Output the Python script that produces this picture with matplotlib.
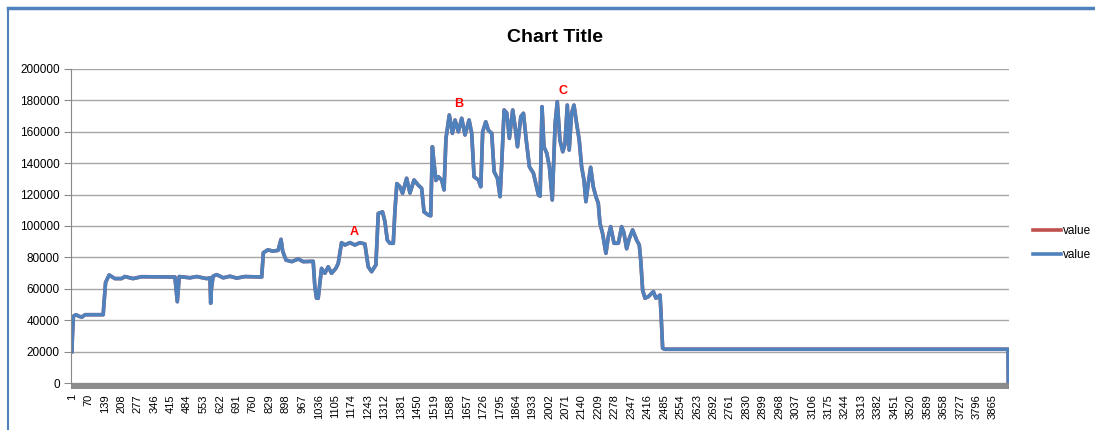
import matplotlib

matplotlib.use("Agg")
import matplotlib.pyplot as plt
from matplotlib.lines import Line2D
from matplotlib.patches import Rectangle

plt.rcParams["font.family"] = ["Liberation Sans Narrow", "Liberation Sans", "DejaVu Sans"]

# puntos (indice de fila, valor)
idx = [1, 3, 7, 18, 30, 43, 56, 132, 135, 142, 157, 181, 209, 223, 257, 293,
       433, 439, 443, 448, 451, 496, 524, 566, 580, 583, 586, 593, 608, 636,
       664, 692, 727, 797, 804, 823, 844, 866, 878, 885, 899, 923, 950, 971,
       1013, 1020, 1027, 1034, 1048, 1062, 1076, 1090, 1108, 1118, 1132, 1146,
       1167, 1188, 1209, 1230, 1244, 1258, 1276, 1286, 1304, 1314, 1324, 1335,
       1349, 1356, 1364, 1377, 1388, 1405, 1419, 1436, 1454, 1468, 1478, 1496,
       1506, 1513, 1520, 1528, 1538, 1552, 1562, 1570, 1584, 1597, 1608, 1622,
       1636, 1650, 1667, 1678, 1688, 1706, 1716, 1724, 1737, 1748, 1762, 1772,
       1786, 1797, 1804, 1814, 1825, 1836, 1850, 1860, 1870, 1884, 1895, 1906,
       1920, 1937, 1958, 1965, 1973, 1981, 1993, 2004, 2016, 2028, 2037, 2048,
       2060, 2069, 2079, 2087, 2097, 2107, 2118, 2129, 2139, 2149, 2157, 2167,
       2177, 2188, 2199, 2209, 2216, 2227, 2241, 2251, 2261, 2275, 2293, 2307,
       2316, 2328, 2339, 2353, 2370, 2381, 2387, 2395, 2405, 2419, 2440, 2451,
       2461, 2468, 2472, 2479, 2489, 3928, 3929]
valores = [20000, 30000, 42500, 43500, 42500, 42000, 43500, 43500, 50000, 64000,
           68800, 66500, 66500, 67800, 66500, 67700, 67500, 58000, 51800, 62000,
           67800, 67000, 67800, 66500, 67000, 50800, 60000, 68000, 69000, 67000,
           68000, 66800, 67800, 67500, 83000, 84800, 84000, 84500, 91500, 84000,
           78300, 77300, 79000, 77300, 77500, 61300, 54000, 54000, 73000, 69900,
           74000, 69900, 73000, 76200, 89400, 87900, 89400, 87900, 89400, 88500,
           74000, 70900, 75200, 108000, 109000, 102700, 91000, 89000, 89000,
           110000, 127000, 125000, 120800, 130400, 121000, 129300, 126000,
           124000, 109000, 107000, 106500, 150500, 140000, 129000, 131400,
           129300, 123000, 155800, 170700, 159000, 167500, 160000, 168600,
           158000, 167500, 159000, 131400, 129300, 125000, 160000, 166400,
           161000, 159000, 134600, 130400, 118700, 140000, 173900, 172000,
           155800, 173900, 163300, 150500, 169600, 171800, 155800, 137800,
           133600, 119700, 119000, 176000, 150500, 146300, 137800, 116600,
           165400, 179200, 154800, 147300, 152000, 177000, 148400, 171800,
           177000, 165400, 154800, 137800, 129300, 115500, 127200, 137400,
           125000, 118700, 114500, 101700, 95300, 82600, 93200, 99600, 89000,
           89000, 99600, 96000, 85500, 92000, 97500, 91000, 87900, 78300, 59200,
           54000, 55000, 58200, 54000, 55000, 56000, 45000, 22100, 21500, 21500, 0]

etiquetas_x = list(range(1, 3866, 69))
marcas = {"A": (1184, 96000), "B": (1624, 177700), "C": (2061, 186000)}

AZUL = "#4f81bd"
ROJO = "#c0504d"
GRIS = "#a6a6a6"

fig = plt.figure(figsize=(10.95, 4.30), dpi=100)
ax = fig.add_axes([71 / 1095, 47 / 430, 938 / 1095, 314 / 430])

ax.plot(idx, valores, color=ROJO, lw=2.6, solid_joinstyle="round")
ax.plot(idx, valores, color=AZUL, lw=2.6, solid_joinstyle="round")

for letra, (xm, ym) in marcas.items():
    ax.text(xm, ym, letra, color="red", fontsize=9, fontweight="bold",
            ha="center", va="center")

ax.set_xlim(-3, 3932)
ax.set_ylim(0, 200000)
ax.set_yticks(range(0, 200001, 20000))
ax.set_yticklabels([str(v) for v in range(0, 200001, 20000)], fontsize=8.5)
ax.set_xticks(etiquetas_x)
ax.set_xticklabels([str(v) for v in etiquetas_x], rotation=90, fontsize=8)
ax.tick_params(axis="x", length=0, pad=8)
ax.tick_params(axis="y", length=5, color="#888888", pad=3)
ax.yaxis.grid(True, color=GRIS, lw=1)
ax.set_axisbelow(True)
for lado in ["top", "right", "bottom"]:
    ax.spines[lado].set_visible(False)
ax.spines["left"].set_color("#888888")

# franja gris del eje de categorias (marcas muy densas)
ax.add_patch(Rectangle((0, -0.018), 1, 0.018, transform=ax.transAxes,
                       color="#8c8c8c", clip_on=False, lw=0))

fig.text(555 / 1095, 1 - 38 / 430, "Chart Title", ha="center", va="center",
         fontsize=14, fontweight="bold")

handles = [Line2D([], [], color=ROJO, lw=2.6), Line2D([], [], color=AZUL, lw=2.6)]
fig.legend(handles, ["value", "value"], loc="center left",
           bbox_to_anchor=(1022 / 1095, 1 - 243 / 430), frameon=False,
           fontsize=8.5, handlelength=2.4, handletextpad=0.15, labelspacing=1.0)

# borde azul del grafico original
fig.add_artist(Line2D([8 / 1095, 1], [1 - 8 / 430, 1 - 8 / 430], color=AZUL, lw=2.5,
                      transform=fig.transFigure))
fig.add_artist(Line2D([8 / 1095, 8 / 1095], [0, 1 - 8 / 430], color=AZUL, lw=1.5,
                      transform=fig.transFigure))

fig.savefig("out.png", dpi=100)
